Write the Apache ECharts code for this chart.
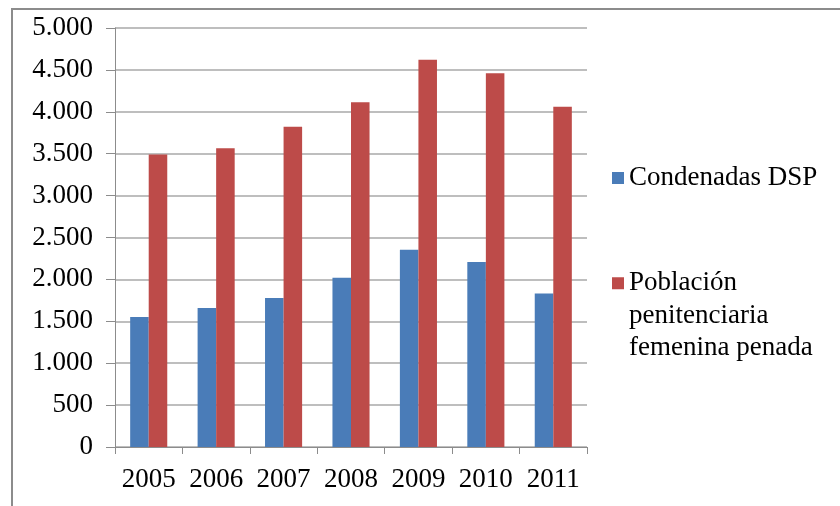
<!DOCTYPE html>
<html>
<head>
<meta charset="utf-8">
<script src="https://cdn.jsdelivr.net/npm/echarts@6/dist/echarts.min.js"></script>
<style>
  html, body { margin: 0; padding: 0; background: #fff; }
  #chart { width: 840px; height: 506px; }
</style>
</head>
<body>
<div id="chart"></div>
<script>
// Years on the category axis
const years = ['2005', '2006', '2007', '2008', '2009', '2010', '2011'];
// Women sentenced for crimes against public health (DSP)
const condenadasDSP = [1552, 1659, 1778, 2021, 2355, 2207, 1831];
// Sentenced female prison population
const poblacionPenada = [3491, 3566, 3821, 4114, 4620, 4460, 4060];
// Series names
const seriesNames = ['Condenadas DSP', 'Población penitenciaria femenina penada'];

const FONT = 'Liberation Serif';
const AXIS_GREY = '#8c8c8c';
const GRID_GREY = '#a8a8a8';

function thousands(v) {
  return String(v).replace(/\B(?=(\d{3})+(?!\d))/g, '.');
}

const chart = echarts.init(document.getElementById('chart'), null, { renderer: 'canvas' });

chart.setOption({
  animation: false,
  backgroundColor: '#ffffff',
  textStyle: { fontFamily: FONT },
  grid: { left: 115, right: 253, top: 28, bottom: 59, containLabel: false },
  graphic: [{
    type: 'rect',
    shape: { x: 12, y: 9, width: 900, height: 600 },
    style: { fill: 'none', stroke: AXIS_GREY, lineWidth: 2 },
    silent: true,
    z: -1
  }],
  legend: [
    {
      data: [seriesNames[0]],
      left: 607,
      top: 157,
      itemWidth: 12,
      itemHeight: 12,
      itemGap: 6,
      icon: 'rect',
      textStyle: { fontFamily: FONT, fontSize: 27, color: '#000', lineHeight: 32 }
    },
    {
      data: [seriesNames[1]],
      left: 607,
      top: 197,
      itemWidth: 12,
      itemHeight: 12,
      icon: 'rect',
      // two leading empty lines keep the swatch level with the first line
      formatter: function () { return '\n\nPoblación\npenitenciaria\nfemenina penada'; },
      textStyle: { fontFamily: FONT, fontSize: 27, color: '#000', lineHeight: 32.5 }
    }
  ],
  xAxis: {
    type: 'category',
    data: years,
    boundaryGap: true,
    axisLine: { show: true, lineStyle: { color: AXIS_GREY, width: 1 } },
    axisTick: { show: true, length: 7, lineStyle: { color: AXIS_GREY } },
    axisLabel: { fontFamily: FONT, fontSize: 27, color: '#000', margin: 19, interval: 0 },
    splitLine: { show: false }
  },
  yAxis: {
    type: 'value',
    min: 0,
    max: 5000,
    interval: 500,
    axisLine: { show: true, lineStyle: { color: AXIS_GREY, width: 1 } },
    axisTick: { show: true, length: 9, lineStyle: { color: AXIS_GREY } },
    axisLabel: { fontFamily: FONT, fontSize: 27, color: '#000', margin: 22, formatter: thousands },
    splitLine: { show: true, lineStyle: { color: GRID_GREY, width: 1.5 } }
  },
  series: [
    {
      name: seriesNames[0],
      type: 'bar',
      data: condenadasDSP,
      barGap: '0%',
      barCategoryGap: '45%',
      itemStyle: { color: '#4a7cb8' }
    },
    {
      name: seriesNames[1],
      type: 'bar',
      data: poblacionPenada,
      barGap: '0%',
      barCategoryGap: '45%',
      itemStyle: { color: '#bd4b49' }
    }
  ]
});
</script>
</body>
</html>
